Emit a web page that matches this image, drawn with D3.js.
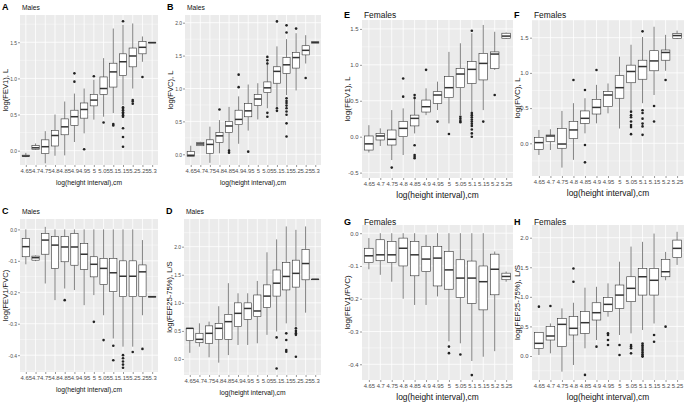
<!DOCTYPE html>
<html lang="en">
<head>
<meta charset="UTF-8">
<title>Log spirometry vs log height interval</title>
<script src="https://d3js.org/d3.v7.min.js"></script>
<style>
  body { margin: 0; background: #fff; }
  svg { font-family: "Liberation Sans", Arial, sans-serif; }
</style>
</head>
<body>
<svg id="chart" width="685" height="407"></svg>
<script>
// height categories
const maleCats = ["4.65","4.7","4.75","4.8","4.85","4.9","4.95","5","5.05","5.1","5.15","5.2","5.25","5.3"];
const femaleCats = ["4.65","4.7","4.75","4.8","4.85","4.9","4.95","5","5.05","5.1","5.15","5.2","5.25"];

// each box: [lower whisker, q1, median, q3, upper whisker]
const fev1Males = [
  [-0.09,-0.083,-0.074,-0.062,-0.03],[0.01,0.02,0.04,0.07,0.10],[-0.175,-0.04,0.055,0.15,0.27],
  [-0.07,0.065,0.21,0.28,0.50],[-0.065,0.22,0.33,0.44,0.68],[0.12,0.35,0.47,0.56,0.79],
  [0.24,0.45,0.57,0.66,0.86],[0.43,0.62,0.70,0.78,0.98],[0.47,0.78,0.86,1.02,1.28],
  [0.52,0.88,1.09,1.21,1.69],[0.63,1.04,1.23,1.34,1.74],[0.86,1.16,1.31,1.42,1.76],
  [1.23,1.34,1.43,1.51,1.58],[1.49,1.49,1.495,1.50,1.50]
];
const fev1MalesOut = [[],[],[],[],[],[1.07,0.955],[0.02],[1.03],[0.39],[0.37,0.35],
  [1.79,0.60,0.58,0.56,0.53,0.51,0.49,0.47,0.31,0.19,0.055],[0.70,0.68,0.65],[1.02],[]];

const fvcMales = [
  [-0.04,-0.035,-0.015,0.04,0.13],[0.13,0.13,0.157,0.18,0.19],[-0.13,0.015,0.15,0.22,0.42],
  [0.015,0.18,0.28,0.33,0.52],[0.066,0.33,0.43,0.50,0.72],[0.16,0.45,0.53,0.67,0.88],
  [0.36,0.57,0.66,0.77,1.06],[0.53,0.74,0.84,0.91,1.08],[0.70,0.94,1.01,1.10,1.41],
  [0.72,1.08,1.26,1.33,1.64],[0.90,1.23,1.36,1.47,1.75],[0.97,1.31,1.47,1.55,1.84],
  [1.38,1.51,1.58,1.65,1.81],[1.69,1.69,1.70,1.71,1.71]
];
const fvcMalesOut = [[],[],[],[0.68],[0.055,0.025],[1.21,1.02],[0.04],[],[1.48,1.43,1.38,0.63,0.57],
  [2.02,0.70,0.66],[1.96,1.85,0.85,0.81,0.78,0.74,0.70,0.65,0.60,0.47,0.27],[1.91],[1.16],[]];

const ratioMales = [
  [-0.111,-0.087,-0.055,-0.029,0.0],[-0.101,-0.098,-0.09,-0.085,-0.083],[-0.172,-0.079,-0.034,-0.013,0.008],
  [-0.225,-0.124,-0.05,-0.023,0.0],[-0.188,-0.103,-0.056,-0.023,0.0],[-0.193,-0.114,-0.056,-0.013,0.0],
  [-0.241,-0.127,-0.079,-0.045,0.0],[-0.209,-0.151,-0.111,-0.087,0.0],[-0.273,-0.175,-0.124,-0.092,0.0],
  [-0.347,-0.198,-0.138,-0.092,0.0],[-0.373,-0.214,-0.149,-0.10,0.0],[-0.373,-0.214,-0.149,-0.10,0.0],
  [-0.273,-0.214,-0.135,-0.113,-0.034],[-0.214,-0.214,-0.214,-0.214,-0.214]
];
const ratioMalesOut = [[],[],[],[],[-0.225],[],[],[-0.294],[-0.352],[-0.37,-0.416],
  [-0.40,-0.41,-0.42,-0.43,-0.44],[-0.39],[-0.38],[]];

const fefMales = [
  [0.11,0.326,0.546,0.546,0.546],[0.22,0.29,0.35,0.457,0.635],[0.03,0.28,0.457,0.59,0.665],
  [-0.065,0.35,0.546,0.635,0.94],[0.07,0.35,0.665,0.795,1.35],[0.25,0.576,0.813,1.0,1.17],
  [0.25,0.706,0.90,1.0,1.17],[0.28,0.754,0.855,1.14,1.39],[0.43,0.92,1.12,1.32,1.9],
  [0.49,1.12,1.35,1.585,2.13],[0.635,1.23,1.47,1.72,2.36],[0.576,1.28,1.525,1.76,2.3],
  [0.825,1.41,1.70,1.95,2.36],[1.42,1.42,1.42,1.42,1.42]
];
const fefMalesOut = [[],[],[],[],[],[],[],[],[],[0.385,-0.17],[0.457,0.338,0.16,0.13],
  [0.546,0.5,0.46,0.43,0.04],[],[]];

const fev1Females = [
  [-0.22,-0.186,-0.10,0.01,0.16],[-0.13,-0.046,0.01,0.046,0.116],[-0.325,-0.116,-0.037,0.093,0.37],
  [-0.255,0.0,0.116,0.21,0.394],[0.046,0.15,0.255,0.30,0.557],[0.30,0.343,0.417,0.51,0.673],
  [0.371,0.464,0.58,0.626,0.766],[0.185,0.543,0.682,0.835,1.18],[0.30,0.682,0.872,0.95,1.30],
  [0.34,0.742,0.937,1.044,1.44],[0.37,0.79,1.02,1.16,1.555],[0.93,0.95,1.15,1.18,1.46],
  [1.36,1.37,1.40,1.44,1.45]
];
const fev1FemalesOut = [[],[],[-0.43],[0.557,0.81],[0.58,0.54,-0.12,-0.255,-0.28,-0.30],[0.93],[0.21],[0.037],
  [0.278,0.25,0.22,0.2],[1.475,0.33,0.30,0.27,0.24,0.21,0.18,0.15,0.10,0.046,0.0],[0.21],[0.58],[]];

const fvcFemales = [
  [-0.165,-0.085,0.01,0.085,0.19],[-0.095,0.024,0.104,0.118,0.2],[-0.345,-0.07,-0.01,0.213,0.46],
  [-0.235,0.07,0.19,0.31,0.57],[0.142,0.284,0.355,0.46,0.64],[0.284,0.416,0.51,0.625,0.83],
  [0.426,0.52,0.686,0.733,0.85],[0.21,0.64,0.79,0.96,1.23],[0.47,0.86,1.02,1.11,1.40],
  [0.57,0.91,1.09,1.18,1.51],[0.686,1.03,1.17,1.315,1.655],[1.03,1.18,1.29,1.325,1.54],
  [1.48,1.49,1.53,1.56,1.6]
];
const fvcFemalesOut = [[],[],[],[0.90],[0.757,-0.024,-0.27],[1.04],[],[],
  [0.45,0.40,0.37,0.31,0.26,0.23,0.13],[1.59,0.47,0.43,0.35,0.28,0.24,0.12],[0.53,0.31],[0.9],[]];

const ratioFemales = [
  [-0.11,-0.09,-0.069,-0.046,-0.015],[-0.127,-0.084,-0.066,-0.02,0.0],[-0.148,-0.09,-0.066,-0.025,0.0],
  [-0.2,-0.10,-0.046,-0.015,0.0],[-0.219,-0.13,-0.066,-0.025,0.0],[-0.219,-0.117,-0.079,-0.04,-0.005],
  [-0.193,-0.161,-0.076,-0.04,0.0],[-0.33,-0.171,-0.112,-0.056,0.0],[-0.336,-0.196,-0.137,-0.081,0.0],
  [-0.39,-0.214,-0.137,-0.085,0.0],[-0.377,-0.234,-0.148,-0.10,0.0],[-0.36,-0.188,-0.11,-0.064,-0.056],
  [-0.148,-0.142,-0.132,-0.122,-0.117]
];
const ratioFemalesOut = [[],[],[],[],[],[],[],[-0.346,-0.366],[-0.37],[-0.433],[],[],[]];

const fefFemales = [
  [0.017,0.13,0.214,0.40,0.40],[0.045,0.27,0.338,0.496,0.55],[-0.265,0.158,0.535,0.636,0.805],
  [-0.152,0.355,0.468,0.665,0.90],[0.13,0.383,0.563,0.75,1.155],[0.27,0.608,0.732,0.90,1.17],
  [0.665,0.75,0.873,0.99,1.228],[0.355,0.806,1.03,1.2,1.594],[0.383,0.918,1.144,1.34,1.85],
  [0.44,1.03,1.34,1.48,1.93],[0.55,1.03,1.28,1.48,2.07],[1.28,1.34,1.425,1.634,1.76],
  [1.54,1.667,1.82,1.96,2.1]
];
const fefFemalesOut = [[0.834],[0.845],[],[1.256,1.48],[-0.32],[0.158],[0.383,0.355,0.27,0.186],
  [0.186,0.017],[0.186,0.16,0.13,0.045],[0.21,0.18,0.15,0.12,0.09,0.06,0.03,0.0,-0.01],[0.355,0.24],[0.496],[]];

// y tick values
const ticksFev1Males = [0, 0.5, 1, 1.5];
const ticksFvcMales = [0, 0.5, 1, 1.5, 2];
const ticksRatio = [0, -0.1, -0.2, -0.3, -0.4];
const ticksFef = [0, 0.5, 1, 1.5, 2];
const ticksFev1Females = [-0.5, 0, 0.5, 1, 1.5];
const ticksFvcFemales = [0, 0.5, 1, 1.5];

const xTitle = "log(height interval),cm";

// panel layout; sx = horizontal squeeze of the text (males figure is narrower)
const panels = [
  {id:"A", title:"Males", cats:maleCats, stats:fev1Males, out:fev1MalesOut, ticks:ticksFev1Males,
   ylab:"log(FEV1), L", x0:20, x1:158, y0:15, y1:165, dom:[-0.198,1.877], ty:7, sx:0.84},
  {id:"B", title:"Males", cats:maleCats, stats:fvcMales, out:fvcMalesOut, ticks:ticksFvcMales,
   ylab:"log(FVC), L", x0:185, x1:321, y0:15, y1:165, dom:[-0.163,2.117], ty:7, sx:0.84},
  {id:"C", title:"Males", cats:maleCats, stats:ratioMales, out:ratioMalesOut, ticks:ticksRatio,
   ylab:"log(FEV1/FVC)", x0:20, x1:158, y0:219, y1:372, dom:[-0.4535,0.033], ty:211, sx:0.84},
  {id:"D", title:"Males", cats:maleCats, stats:fefMales, out:fefMalesOut, ticks:ticksFef,
   ylab:"log(FEF25-75%), L/S", x0:184, x1:321, y0:219, y1:375, dom:[-0.285,2.493], ty:211, sx:0.84},
  {id:"E", title:"Females", cats:femaleCats, stats:fev1Females, out:fev1FemalesOut, ticks:ticksFev1Females,
   ylab:"log(FEV1), L", x0:362, x1:513, y0:20, y1:178, dom:[-0.575,1.624], ty:15, sx:1},
  {id:"F", title:"Females", cats:femaleCats, stats:fvcFemales, out:fvcFemalesOut, ticks:ticksFvcFemales,
   ylab:"log(FVC), L", x0:532, x1:684, y0:20, y1:176, dom:[-0.464,1.751], ty:15, sx:1},
  {id:"G", title:"Females", cats:femaleCats, stats:ratioFemales, out:ratioFemalesOut, ticks:ticksRatio,
   ylab:"log(FEV1/FVC)", x0:362, x1:513, y0:225, y1:380, dom:[-0.448,0.025], ty:222, sx:1},
  {id:"H", title:"Females", cats:femaleCats, stats:fefFemales, out:fefFemalesOut, ticks:ticksFef,
   ylab:"log(FEF25-75%), L/S", x0:532, x1:684, y0:225, y1:380, dom:[-0.406,2.215], ty:222, sx:1}
];

const svg = d3.select("#chart");
const fmt = v => v.toFixed(1);

panels.forEach(p => {
  const g = svg.append("g");
  const x = d3.scalePoint().domain(p.cats).range([p.x0, p.x1]).padding(0.6);
  const y = d3.scaleLinear().domain(p.dom).range([p.y1, p.y0]);
  const bw = x.step() * 0.75;
  const big = p.sx === 1 ? 8.4 : 8;

  // panel background + grid
  g.append("rect").attr("x", p.x0).attr("y", p.y0)
    .attr("width", p.x1 - p.x0).attr("height", p.y1 - p.y0).attr("fill", "#EBEBEB");
  const step = p.ticks[1] - p.ticks[0];
  const minor = p.ticks.map(t => t + step / 2).concat([p.ticks[0] - step / 2]);
  g.selectAll(".minor").data(minor.filter(v => y(v) > p.y0 && y(v) < p.y1)).enter().append("line")
    .attr("x1", p.x0).attr("x2", p.x1).attr("y1", d => y(d)).attr("y2", d => y(d))
    .attr("stroke", "#fff").attr("stroke-width", 0.4);
  g.selectAll(".hmajor").data(p.ticks).enter().append("line")
    .attr("x1", p.x0).attr("x2", p.x1).attr("y1", d => y(d)).attr("y2", d => y(d))
    .attr("stroke", "#fff").attr("stroke-width", 0.8);
  g.selectAll(".vmajor").data(p.cats).enter().append("line")
    .attr("x1", d => x(d)).attr("x2", d => x(d)).attr("y1", p.y0).attr("y2", p.y1)
    .attr("stroke", "#fff").attr("stroke-width", 0.8);

  // boxes
  const boxes = g.selectAll(".box").data(p.stats.map((s, i) => ({cat: p.cats[i], s: s, o: p.out[i]})))
    .enter().append("g");
  boxes.append("line").attr("x1", d => x(d.cat)).attr("x2", d => x(d.cat))
    .attr("y1", d => y(d.s[4])).attr("y2", d => y(d.s[3])).attr("stroke", "#333").attr("stroke-width", 0.6);
  boxes.append("line").attr("x1", d => x(d.cat)).attr("x2", d => x(d.cat))
    .attr("y1", d => y(d.s[1])).attr("y2", d => y(d.s[0])).attr("stroke", "#333").attr("stroke-width", 0.6);
  boxes.append("rect").attr("x", d => x(d.cat) - bw / 2).attr("width", bw)
    .attr("y", d => y(d.s[3])).attr("height", d => Math.max(0.5, y(d.s[1]) - y(d.s[3])))
    .attr("fill", "#fff").attr("stroke", "#333").attr("stroke-width", 0.6);
  boxes.append("line").attr("x1", d => x(d.cat) - bw / 2).attr("x2", d => x(d.cat) + bw / 2)
    .attr("y1", d => y(d.s[2])).attr("y2", d => y(d.s[2])).attr("stroke", "#333").attr("stroke-width", 1.5);
  boxes.each(function(d) {
    d3.select(this).selectAll("circle").data(d.o).enter().append("circle")
      .attr("cx", x(d.cat)).attr("cy", v => y(v)).attr("r", 1.3).attr("fill", "#222");
  });

  // axes
  const ya = g.append("g").attr("transform", `translate(${p.x0},0)`)
    .call(d3.axisLeft(y).tickValues(p.ticks).tickSize(2).tickPadding(1.5).tickFormat(fmt));
  const xa = g.append("g").attr("transform", `translate(0,${p.y1})`)
    .call(d3.axisBottom(x).tickSize(2).tickPadding(2));
  [ya, xa].forEach(a => {
    a.select(".domain").remove();
    a.selectAll(".tick line").attr("stroke", "#333").attr("stroke-width", 0.5);
    a.selectAll(".tick text").attr("fill", "#4D4D4D").style("font-size", "5.9px")
      .style("font-family", "inherit");
  });
  ya.selectAll(".tick text").attr("transform", `scale(${p.sx},1)`);

  // titles
  g.append("text").attr("transform", `translate(${(p.x0 + p.x1) / 2},${p.y1 + 20}) scale(${p.sx},1)`)
    .attr("text-anchor", "middle").style("font-size", big + "px").attr("fill", "#111").text(xTitle);
  g.append("text").attr("transform", `translate(${p.x0 - 12},${(p.y0 + p.y1) / 2}) rotate(-90)`)
    .attr("text-anchor", "middle").style("font-size", (big - 0.4) + "px").attr("fill", "#111").text(p.ylab);
  g.append("text").attr("x", p.x0 - 18).attr("y", p.ty + 3).style("font-size", "9px")
    .style("font-weight", "bold").text(p.id);
  g.append("text").attr("transform", `translate(${p.x0 + 2},${p.ty + 3}) scale(${p.sx},1)`)
    .style("font-size", big + "px").attr("fill", "#111").text(p.title);
});
</script>
</body>
</html>
